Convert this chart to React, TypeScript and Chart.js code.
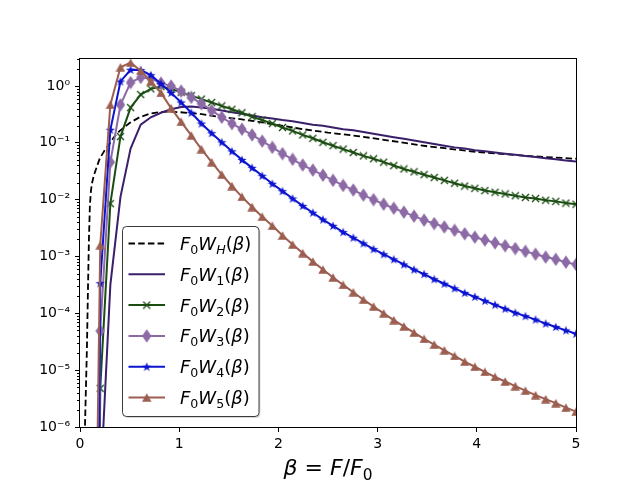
import { useEffect, useRef } from 'react';
import { Chart, registerables } from 'chart.js';

Chart.register(...registerables);

// beta grid of the marked curves (0..5 in 49 steps, the beta = 0 point left out)
const BETA = [
  0.102, 0.204, 0.306, 0.408, 0.510, 0.612, 0.714, 0.816, 0.918, 1.020,
  1.122, 1.224, 1.327, 1.429, 1.531, 1.633, 1.735, 1.837, 1.939, 2.041,
  2.143, 2.245, 2.347, 2.449, 2.551, 2.653, 2.755, 2.857, 2.959, 3.061,
  3.163, 3.265, 3.367, 3.469, 3.571, 3.673, 3.776, 3.878, 3.980, 4.082,
  4.184, 4.286, 4.388, 4.490, 4.592, 4.694, 4.796, 4.898, 5.000,
];

// log10 of F0*Wn
const W1_LOG = [
  -20, -7.1, -3.5, -1.95, -1.10, -0.68, -0.55, -0.47, -0.41, -0.37,
  -0.36, -0.38, -0.40, -0.43, -0.46, -0.49, -0.52, -0.55, -0.57, -0.60,
  -0.62, -0.65, -0.68, -0.70, -0.73, -0.76, -0.78, -0.81, -0.84, -0.87,
  -0.90, -0.93, -0.96, -0.99, -1.02, -1.05, -1.08, -1.10, -1.13, -1.15,
  -1.17, -1.19, -1.21, -1.23, -1.25, -1.27, -1.29, -1.31, -1.33,
];
const W2_LOG = [
  -30, -5.32, -2.07, -0.89, -0.38, -0.15, -0.05, -0.01, -0.05, -0.11,
  -0.17, -0.23, -0.29, -0.35, -0.41, -0.47, -0.54, -0.60, -0.66, -0.73,
  -0.79, -0.86, -0.92, -0.99, -1.05, -1.11, -1.17, -1.23, -1.28, -1.34,
  -1.40, -1.46, -1.51, -1.56, -1.61, -1.66, -1.71, -1.76, -1.80, -1.84,
  -1.87, -1.90, -1.93, -1.96, -1.98, -2.01, -2.03, -2.06, -2.08,
];
const W3_LOG = [
  -30, -4.31, -1.34, -0.33, 0.06, 0.15, 0.13, 0.05, 0.00, -0.09,
  -0.20, -0.31, -0.43, -0.55, -0.66, -0.76, -0.86, -0.97, -1.08, -1.19,
  -1.29, -1.39, -1.48, -1.57, -1.66, -1.75, -1.83, -1.92, -2.00, -2.08,
  -2.15, -2.22, -2.29, -2.36, -2.42, -2.48, -2.54, -2.60, -2.66, -2.71,
  -2.76, -2.81, -2.86, -2.91, -2.96, -3.01, -3.05, -3.10, -3.14,
];
const W4_LOG = [
  -30, -3.47, -0.77, 0.08, 0.285, 0.28, 0.19, 0.04, -0.12, -0.29,
  -0.47, -0.66, -0.83, -0.99, -1.15, -1.30, -1.44, -1.58, -1.72, -1.85,
  -1.98, -2.11, -2.23, -2.35, -2.46, -2.57, -2.67, -2.77, -2.87, -2.96,
  -3.05, -3.14, -3.23, -3.31, -3.40, -3.48, -3.56, -3.64, -3.71, -3.78,
  -3.85, -3.92, -3.99, -4.05, -4.11, -4.18, -4.24, -4.30, -4.36,
];
const W5_LOG = [
  -15.6, -2.80, -0.33, 0.33, 0.41, 0.27, 0.08, -0.12, -0.39, -0.63,
  -0.87, -1.11, -1.34, -1.56, -1.76, -1.95, -2.13, -2.30, -2.46, -2.63,
  -2.79, -2.94, -3.09, -3.23, -3.37, -3.50, -3.63, -3.76, -3.88, -4.00,
  -4.12, -4.23, -4.34, -4.45, -4.55, -4.65, -4.75, -4.85, -4.94, -5.03,
  -5.12, -5.20, -5.28, -5.36, -5.44, -5.51, -5.58, -5.66, -5.73,
];

// the dashed W_H curve is sampled more finely near the origin
const BETA_H = [
  0.04, 0.05, 0.06, 0.07, 0.08, 0.09, 0.10, 0.11, 0.12, 0.14, 0.16, 0.18,
  0.20, 0.25, 0.30, 0.35, 0.40, 0.50, 0.60, 0.70, 0.80, 0.90, 1.00, 1.20,
  1.40, 1.60, 1.80, 2.00, 2.25, 2.50, 2.75, 3.00, 3.50, 4.00, 4.50, 5.00,
];
const WH_LOG = [
  -7.0, -6.0, -5.3, -4.6, -3.6, -2.7, -2.09, -1.85, -1.72, -1.57, -1.47, -1.37,
  -1.27, -1.13, -1.01, -0.88, -0.79, -0.65, -0.55, -0.49, -0.46, -0.45, -0.46, -0.49,
  -0.54, -0.58, -0.63, -0.69, -0.76, -0.82, -0.87, -0.93, -1.06, -1.16, -1.23, -1.28,
];

const SUBS = ['H', '1', '2', '3', '4', '5'];
const COLORS = ['#000000', '#3a1f6b', '#1b4d12', '#8c6aa6', '#0c14d0', '#9c5e50'];
const X_TICKS = [0, 1, 2, 3, 4, 5];
const Y_TICKS = [1e-6, 1e-5, 1e-4, 1e-3, 1e-2, 1e-1, 1];
const Y_LABELS = ['10⁻⁶', '10⁻⁵', '10⁻⁴', '10⁻³', '10⁻²', '10⁻¹', '10⁰'];

const FAMILY = '"DejaVu Sans"';

const toPoints = (xs: number[], logs: number[]) =>
  xs.map((x, i) => ({ x, y: Math.pow(10, logs[i]) }));

function markerCanvas(w: number, h: number, paint: (c: CanvasRenderingContext2D) => void) {
  const cv = document.createElement('canvas');
  cv.width = w;
  cv.height = h;
  paint(cv.getContext('2d')!);
  return cv;
}

function makeMarkers() {
  const cross = markerCanvas(9, 9, (c) => {
    c.strokeStyle = COLORS[2];
    c.lineWidth = 1.4;
    c.beginPath();
    c.moveTo(1, 1); c.lineTo(8, 8);
    c.moveTo(8, 1); c.lineTo(1, 8);
    c.stroke();
  });
  const diamond = markerCanvas(10, 14, (c) => {
    c.fillStyle = COLORS[3];
    c.beginPath();
    c.moveTo(5, 0.3); c.lineTo(9.7, 7); c.lineTo(5, 13.7); c.lineTo(0.3, 7);
    c.closePath();
    c.fill();
  });
  const star = markerCanvas(10, 10, (c) => {
    c.fillStyle = COLORS[4];
    c.beginPath();
    for (let i = 0; i < 10; i++) {
      const r = i % 2 === 0 ? 4.9 : 1.9;
      const a = -Math.PI / 2 + (i * Math.PI) / 5;
      const px = 5 + r * Math.cos(a);
      const py = 5.4 + r * Math.sin(a);
      if (i === 0) c.moveTo(px, py); else c.lineTo(px, py);
    }
    c.closePath();
    c.fill();
  });
  const tri = markerCanvas(10, 9, (c) => {
    c.fillStyle = COLORS[5];
    c.beginPath();
    c.moveTo(5, 0.3); c.lineTo(9.7, 8.7); c.lineTo(0.3, 8.7);
    c.closePath();
    c.fill();
  });
  return [null, null, cross, diamond, star, tri];
}

type Run = { t: string; it?: boolean; sub?: boolean };

function runFont(r: Run, size: number) {
  const s = r.sub ? size * 0.7 : size;
  return `${r.it ? 'italic ' : ''}${s}px ${FAMILY}`;
}

function runsWidth(ctx: CanvasRenderingContext2D, runs: Run[], size: number) {
  let w = 0;
  for (const r of runs) {
    ctx.font = runFont(r, size);
    w += ctx.measureText(r.t).width;
  }
  return w;
}

function drawRuns(ctx: CanvasRenderingContext2D, runs: Run[], x: number, y: number, size: number) {
  let cx = x;
  ctx.textAlign = 'left';
  ctx.textBaseline = 'alphabetic';
  for (const r of runs) {
    ctx.font = runFont(r, size);
    ctx.fillText(r.t, cx, r.sub ? y + size * 0.22 : y);
    cx += ctx.measureText(r.t).width;
  }
}

const labelRuns = (sub: string): Run[] => [
  { t: 'F', it: true }, { t: '0', sub: true }, { t: 'W', it: true },
  { t: sub, it: sub === 'H', sub: true }, { t: '(' }, { t: 'β', it: true }, { t: ')' },
];

const TITLE_RUNS: Run[] = [
  { t: 'β', it: true }, { t: ' = ' }, { t: 'F', it: true }, { t: '/' },
  { t: 'F', it: true }, { t: '0', sub: true },
];

export default function App() {
  const canvasRef = useRef<HTMLCanvasElement>(null);

  useEffect(() => {
    document.body.style.margin = '0';
    const canvas = canvasRef.current;
    if (!canvas) return;

    const marks = makeMarkers();
    const series = [
      { xs: BETA_H, logs: WH_LOG, dash: [6.5, 3.2], width: 1.8 },
      { xs: BETA, logs: W1_LOG, dash: [], width: 2 },
      { xs: BETA, logs: W2_LOG, dash: [], width: 2 },
      { xs: BETA, logs: W3_LOG, dash: [], width: 2 },
      { xs: BETA, logs: W4_LOG, dash: [], width: 2 },
      { xs: BETA, logs: W5_LOG, dash: [], width: 2 },
    ];

    const decor = {
      id: 'decor',
      afterDatasetsDraw(chart: any) {
        const { ctx, chartArea: a, scales } = chart;
        const y = scales.y;
        ctx.save();
        ctx.strokeStyle = '#000';
        ctx.lineWidth = 1;
        ctx.beginPath();
        for (let e = -6; e <= 0; e++) {
          for (let m = 2; m <= 9; m++) {
            const v = m * Math.pow(10, e);
            if (v > y.max) continue;
            const py = Math.round(y.getPixelForValue(v)) + 0.5;
            ctx.moveTo(a.left - 3, py);
            ctx.lineTo(a.left, py);
          }
        }
        ctx.stroke();
        ctx.strokeRect(
          Math.round(a.left) - 0.5, Math.round(a.top) + 0.5,
          Math.round(a.right - a.left) + 1, Math.round(a.bottom - a.top),
        );
        ctx.restore();
      },
      afterDraw(chart: any) {
        const { ctx, chartArea: a } = chart;
        ctx.save();
        // legend box
        const bx = 122.5, by = 226.5, bw = 136.5, bh = 190;
        ctx.fillStyle = 'rgba(0,0,0,0.15)';
        ctx.beginPath();
        ctx.roundRect(bx + 1.5, by + 1.5, bw, bh, 4);
        ctx.fill();
        ctx.fillStyle = '#ffffff';
        ctx.strokeStyle = '#3a3a3a';
        ctx.lineWidth = 1;
        ctx.beginPath();
        ctx.roundRect(bx, by, bw, bh, 4);
        ctx.fill();
        ctx.stroke();
        series.forEach((s, i) => {
          const ry = 243.5 + i * 30.8;
          ctx.strokeStyle = COLORS[i];
          ctx.lineWidth = s.width;
          ctx.setLineDash(s.dash);
          ctx.beginPath();
          ctx.moveTo(128.5, ry);
          ctx.lineTo(165, ry);
          ctx.stroke();
          ctx.setLineDash([]);
          const mk = marks[i];
          if (mk) ctx.drawImage(mk, 146.7 - mk.width / 2, ry - mk.height / 2);
          ctx.fillStyle = '#000';
          drawRuns(ctx, labelRuns(SUBS[i]), 180, ry + 6.5, 18);
        });
        // x axis title
        const size = 22;
        const w = runsWidth(ctx, TITLE_RUNS, size);
        ctx.fillStyle = '#000';
        drawRuns(ctx, TITLE_RUNS, (a.left + a.right) / 2 - w / 2, 475, size);
        ctx.restore();
      },
    };

    const tickFont = { family: FAMILY, size: 14 };

    const chart = new Chart(canvas, {
      type: 'line',
      data: {
        datasets: series.map((s, i) => ({
          label: SUBS[i],
          data: toPoints(s.xs, s.logs),
          borderColor: COLORS[i],
          backgroundColor: COLORS[i],
          borderWidth: s.width,
          borderDash: s.dash,
          pointStyle: (marks[i] || 'circle') as any,
          pointRadius: marks[i] ? 4 : 0,
          pointHoverRadius: 0,
          fill: false,
          tension: 0,
          clip: 0,
          order: 6 - i,
        })),
      },
      options: {
        animation: false,
        responsive: false,
        events: [],
        parsing: false,
        layout: { padding: { left: 0, top: 58, right: 64, bottom: 0 } },
        plugins: { legend: { display: false }, tooltip: { enabled: false } },
        scales: {
          x: {
            type: 'linear',
            min: 0,
            max: 5,
            afterBuildTicks: (s: any) => { s.ticks = X_TICKS.map((v) => ({ value: v })); },
            afterFit: (s: any) => { s.height = 53; },
            ticks: {
              font: tickFont,
              color: '#000',
              padding: 4,
              maxRotation: 0,
              autoSkip: false,
              callback: (v: any) => String(v),
            },
            grid: { drawOnChartArea: false, tickLength: 5, color: '#000', tickWidth: 1 },
            border: { display: false },
          },
          y: {
            type: 'logarithmic',
            min: 1e-6,
            max: 3.11,
            afterBuildTicks: (s: any) => { s.ticks = Y_TICKS.map((v) => ({ value: v })); },
            afterFit: (s: any) => { s.width = 80; },
            ticks: {
              font: tickFont,
              color: '#000',
              padding: 5,
              autoSkip: false,
              callback: (_v: any, i: number) => Y_LABELS[i],
            },
            grid: { drawOnChartArea: false, tickLength: 5, color: '#000', tickWidth: 1 },
            border: { display: false },
          },
        },
      },
      plugins: [decor],
    } as any);

    return () => chart.destroy();
  }, []);

  return (
    <div style={{ width: 640, height: 480 }}>
      <canvas ref={canvasRef} width={640} height={480} style={{ display: 'block' }} />
    </div>
  );
}
